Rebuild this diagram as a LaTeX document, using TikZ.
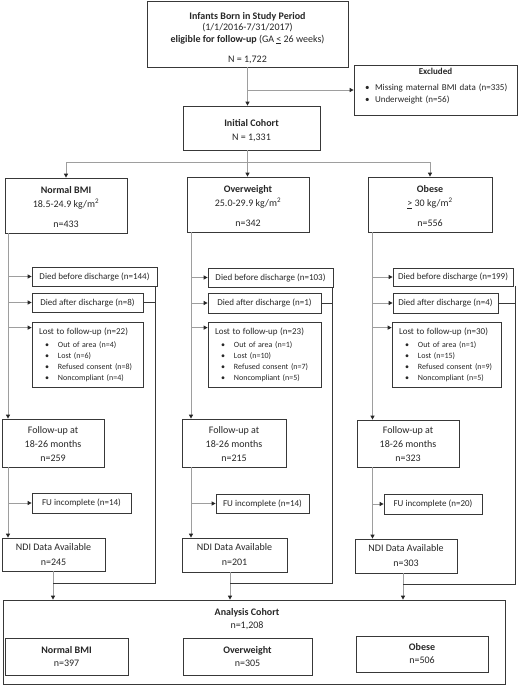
\documentclass[tikz,border=0pt]{standalone}
\usepackage{fontspec}
\setmainfont{Carlito}
\usetikzlibrary{arrows.meta}
\newcommand\mkbox[6]{\node[box,#6,minimum width={(#4-#2)*1pt},minimum height={(#5-#3)*1pt}] (#1) at ({(#2+#4)/2},{(#3+#5)/2})}
\newcommand\bul{\hspace*{6pt}\makebox[13pt][l]{\textbullet}}
\begin{document}
\begin{tikzpicture}[x=1pt,y=-1pt,
  box/.style={draw=black!78, line width=0.75pt, inner sep=0pt, align=center, text=black!85},
  conn/.style={draw=black!38, line width=0.9pt},
  arr/.style={conn, -{Triangle[length=4pt,width=4pt,color=black!85]}},
  darkline/.style={draw=black!78, line width=0.9pt},
  fmain/.style={font=\fontsize{10}{14}\selectfont},
  ftop/.style={font=\fontsize{10}{11.5}\selectfont},
  fside/.style={font=\fontsize{9}{11}\selectfont},
  fndi/.style={font=\fontsize{10}{15}\selectfont},
  finner/.style={font=\fontsize{10}{13}\selectfont},
  lostbox/.style={align=left, font=\fontsize{8}{11}\selectfont},
  exbox/.style={align=left, text width=150pt, font=\fontsize{9}{12}\selectfont}
]
\useasboundingbox (0,0) rectangle (523,685);

% ---------- top ----------
\mkbox{top}{147}{1}{348}{67}{ftop}{\rule{0pt}{15pt}{\bfseries Infants Born in Study Period}\\(1/1/2016-7/31/2017)\\{\bfseries eligible for follow-up} (GA \underline{<} 26 weeks)\\[9pt]N = 1,722};
\mkbox{excl}{354}{65}{517}{115}{exbox}{\makebox[\linewidth]{\bfseries Excluded}\\[4pt]\hspace*{4.5pt}\makebox[10pt][l]{\textbullet}Missing maternal BMI data (n=335)\\\hspace*{4.5pt}\makebox[10pt][l]{\textbullet}Underweight (n=56)\par\vspace*{7pt}};
\mkbox{init}{183}{106}{320}{150}{fmain}{\rule{0pt}{12pt}{\bfseries Initial Cohort}\\N = 1,331};

% ---------- column heads ----------
\mkbox{c1h}{5}{178}{127}{233}{fmain}{\rule{0pt}{10pt}{\bfseries Normal BMI}\\18.5-24.9 kg/m\textsuperscript{2}\\[6pt]n=433};
\mkbox{c2h}{187}{177}{309}{232}{fmain}{\rule{0pt}{10pt}{\bfseries Overweight}\\25.0-29.9 kg/m\textsuperscript{2}\\[6pt]n=342};
\mkbox{c3h}{368}{177}{492}{232}{fmain}{\rule{0pt}{10pt}{\bfseries Obese}\\\underline{>} 30 kg/m\textsuperscript{2}\\[6pt]n=556};

% ---------- died before / after ----------
\mkbox{c1db}{32}{267}{157}{286}{fside}{Died before discharge (n=144)};
\mkbox{c2db}{208}{268}{333}{287}{fside}{Died before discharge (n=103)};
\mkbox{c3db}{393}{268}{513}{286}{fside}{Died before discharge (n=199)};
\mkbox{c1da}{32}{293}{143}{312}{fside}{Died after discharge (n=8)};
\mkbox{c2da}{208}{293}{321}{313}{fside}{Died after discharge (n=1)};
\mkbox{c3da}{393}{293}{498}{313}{fside}{Died after discharge (n=4)};

% ---------- lost to follow-up ----------
\mkbox{c1lost}{32}{322}{143}{387}{lostbox,text width=97pt}{{\fontsize{9}{11}\selectfont Lost to follow-up (n=22)}\\[2pt]\bul Out of area (n=4)\\\bul Lost (n=6)\\\bul Refused consent (n=8)\\\bul Noncompliant (n=4)};
\mkbox{c2lost}{208}{322}{321}{387}{lostbox,text width=99pt}{{\fontsize{9}{11}\selectfont Lost to follow-up (n=23)}\\[2pt]\bul Out of area (n=1)\\\bul Lost (n=10)\\\bul Refused consent (n=7)\\\bul Noncompliant (n=5)};
\mkbox{c3lost}{392}{322}{501}{387}{lostbox,text width=95pt}{{\fontsize{9}{11}\selectfont Lost to follow-up (n=30)}\\[2pt]\bul Out of area (n=1)\\\bul Lost (n=15)\\\bul Refused consent (n=9)\\\bul Noncompliant (n=5)};

% ---------- follow-up ----------
\mkbox{c1fu}{2}{419}{104}{467}{fmain}{\rule{0pt}{9pt}Follow-up at\\18-26 months\\n=259};
\mkbox{c2fu}{182}{419}{286}{467}{fmain}{\rule{0pt}{9pt}Follow-up at\\18-26 months\\n=215};
\mkbox{c3fu}{357}{420}{459}{467}{fmain}{\rule{0pt}{9pt}Follow-up at\\18-26 months\\n=323};

\mkbox{c1fui}{32}{493}{131}{513}{fside}{FU incomplete (n=14)};
\mkbox{c2fui}{216}{494}{309}{513}{fside}{FU incomplete (n=14)};
\mkbox{c3fui}{384}{494}{482}{514}{fside}{FU incomplete (n=20)};

\mkbox{c1ndi}{2}{538}{105}{571}{fndi}{NDI Data Available\\n=245};
\mkbox{c2ndi}{182}{538}{287}{572}{fndi}{NDI Data Available\\n=201};
\mkbox{c3ndi}{355}{539}{457}{573}{fndi}{NDI Data Available\\n=303};

% ---------- analysis cohort ----------
\mkbox{ana}{3}{600}{505}{684}{}{};
\node[align=center, font=\fontsize{10}{12.5}\selectfont, text=black!85] (anatext) at (247,619) {{\bfseries Analysis Cohort}\\n=1,208};
\mkbox{anan}{5}{638}{128}{675}{finner}{{\bfseries Normal BMI}\\n=397};
\mkbox{anao}{183}{638}{312}{675}{finner}{{\bfseries Overweight}\\n=305};
\mkbox{anaob}{356}{636}{488}{672}{finner}{{\bfseries Obese}\\n=506};

% ---------- helper coordinates ----------
\coordinate (br) at (247.5,162);
\coordinate (v1) at (8,0);
\coordinate (v2) at (191,0);
\coordinate (v3) at (372.5,0);
\coordinate (d1) at (53,0);
\coordinate (d2) at (230,0);
\coordinate (d3) at (403,0);
\coordinate (k1) at (155,583);
\coordinate (k2) at (332,583);
\coordinate (k3) at (515,584);

% ---------- top connectors ----------
\draw[arr] (top.south) -- (top.south |- init.north);
\draw[arr] (top.south |- excl.west) -- (excl.west);
\draw[conn] (br |- init.south) -- (br);
\draw[conn] (c1h.north |- br) -- (c3h.north |- br);
\draw[arr] (c1h.north |- br) -- (c1h.north);
\draw[arr] (br) -- (br |- c2h.north);
\draw[arr] (c3h.north |- br) -- (c3h.north);

% ---------- columns ----------
\foreach \c/\v/\d/\k in {1/v1/d1/k1, 2/v2/d2/k2, 3/v3/d3/k3}{
  \draw[arr] (\v |- c\c h.south) -- (\v |- c\c fu.north);
  \draw[arr] (\v |- c\c db.west) -- (c\c db.west);
  \draw[arr] (\v |- c\c da.west) -- (c\c da.west);
  \draw[arr] ([yshift=-6pt]\v |- c\c lost.north west) -- ([yshift=-6pt]c\c lost.north west);
  \draw[arr] (\v |- c\c fu.south) -- (\v |- c\c ndi.north);
  \draw[arr] (\v |- c\c fui.west) -- (c\c fui.west);
  \draw[arr] (\d |- c\c ndi.south) -- (\d |- ana.north);
  \draw[darkline] (\k |- c\c db.south) -- (\k) -- (\d |- \k);
  \draw[darkline] (c\c da.east) -- (\k |- c\c da.east);
}
\end{tikzpicture}
\end{document}
